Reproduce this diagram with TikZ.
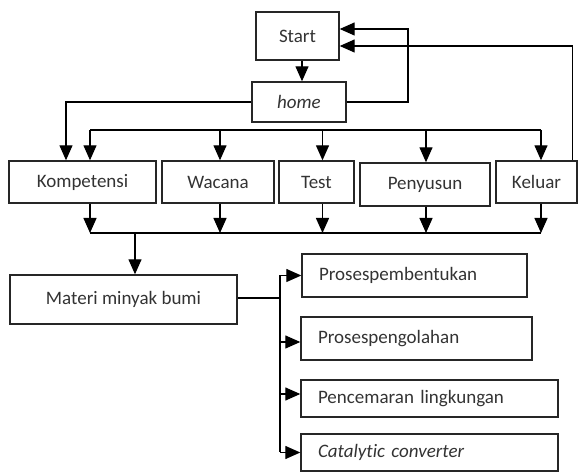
\documentclass[tikz,border=0pt]{standalone}
\usepackage{fontspec}
\setmainfont{Carlito}[Ligatures=NoCommon]
\usetikzlibrary{arrows.meta,calc}
\begin{document}
\begin{tikzpicture}[x=1pt,y=-1pt,
  box/.style={draw=black!85, line width=1.4pt, inner sep=0pt, font=\fontsize{19}{22}\selectfont, text=black!80},
  rbox/.style={box, inner xsep=17pt, align=left},
  conn/.style={line width=1.3pt, draw=black},
  arr/.style={conn, -{Triangle[length=15pt,width=13pt]}}]
\useasboundingbox (0,0) rectangle (582,473);
% nodes
\node[box, minimum width=83pt, minimum height=48pt] (start) at (297.5,36) {Start};
\node[box, minimum width=94pt, minimum height=40pt] (home) at (299,102) {\itshape home};
\node[box, minimum width=147pt, minimum height=42pt] (komp) at (82.5,182) {Kompetensi};
\node[box, minimum width=112pt, minimum height=42pt] (wacana) at (218,182) {Wacana};
\node[box, minimum width=75pt, minimum height=42pt] (test) at (316.5,182) {Test};
\node[box, minimum width=130pt, minimum height=43pt] (peny) at (425,184.5) {Penyusun};
\node[box, minimum width=81pt, minimum height=42pt] (kel) at (536.5,182) {Keluar};
\node[box, minimum width=227pt, minimum height=49pt] (materi) at (123.5,299.5) {Materi minyak bumi};
\node[rbox, text width=191pt, minimum height=43pt] (p1) at (414.5,275.5) {Prosespembentukan};
\node[rbox, text width=197pt, minimum height=43pt] (p2) at (416.5,338.5) {Prosespengolahan};
\node[rbox, text width=223pt, minimum height=37pt] (p3) at (429.5,398.5) {Pencemaran lingkungan};
\node[rbox, text width=223pt, minimum height=37pt] (p4) at (429.5,452.5) {\itshape Catalytic converter};
% helper coordinates
\coordinate (loopA) at (408,0);
\coordinate (c1) at (90,130);
\coordinate (c2) at (220,130);
\coordinate (c3) at (322.5,130);
\coordinate (c4) at (426,130);
\coordinate (c5) at (541,130);
\coordinate (busB) at (0,233);
\coordinate (down) at (135,233);
\coordinate (trunk) at (280,0);
% top connectors
\draw[arr] ([xshift=4.5pt]start.south) -- ([xshift=4.5pt]start.south |- home.north);
\draw[arr] (home.east) -- (home.east -| loopA) |- ([yshift=7pt]start.east);
\draw[arr] ([xshift=-5pt]kel.north east) |- ([yshift=-10pt]start.east);
\draw[arr] (home.west) -| ([xshift=-16.5pt]komp.north);
% top bus
\draw[conn] (c1) -- (c5);
\draw[arr] (c1) -- (c1 |- komp.north);
\draw[arr] (c2) -- (c2 |- wacana.north);
\draw[arr] (c3) -- (c3 |- test.north);
\draw[arr] (c4) -- (c4 |- peny.north);
\draw[arr] (c5) -- (c5 |- kel.north);
% bottom bus
\draw[conn] (c1 |- busB) -- (c5 |- busB);
\draw[arr] (c1 |- komp.south) -- (c1 |- busB);
\draw[arr] (c2 |- wacana.south) -- (c2 |- busB);
\draw[arr] (c3 |- test.south) -- (c3 |- busB);
\draw[arr] (c4 |- peny.south) -- (c4 |- busB);
\draw[arr] (c5 |- kel.south) -- (c5 |- busB);
\draw[arr] (down) -- (down |- materi.north);
% materi branches
\draw[conn] ([yshift=1.5pt]materi.east) -- ([yshift=1.5pt]materi.east -| trunk);
\draw[conn] (trunk |- p1.west) -- (trunk |- p4.west);
\draw[arr] (trunk |- p1.west) -- (p1.west);
\draw[arr] ([yshift=-3.5pt]trunk |- p2.west) -- ([yshift=-3.5pt]p2.west);
\draw[arr] ([yshift=4.5pt]trunk |- p3.west) -- ([yshift=4.5pt]p3.west);
\draw[arr] (trunk |- p4.west) -- (p4.west);
\end{tikzpicture}
\end{document}
